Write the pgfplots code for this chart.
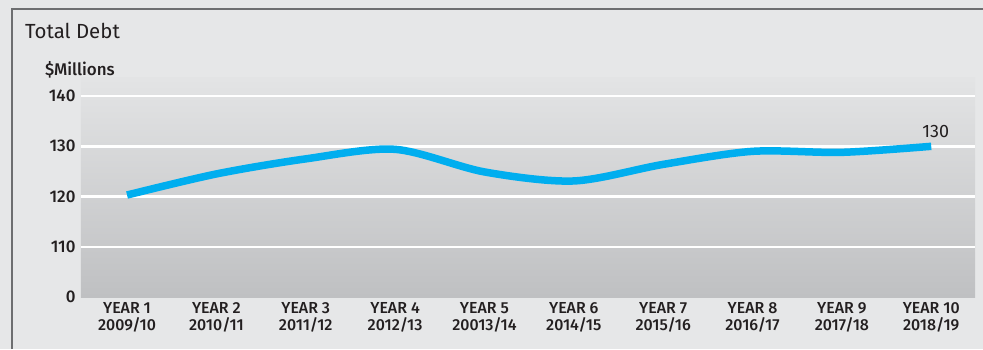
\documentclass[border=0pt]{standalone}
\usepackage{fontspec}
\setmainfont{Fira Sans}
\newfontfamily\medfont{Fira Sans Medium}
\usepackage{pgfplots}
\pgfplotsset{compat=1.18}
\definecolor{bg}{HTML}{E6E7E8}
\definecolor{frame}{HTML}{6D6E70}
\definecolor{topc}{HTML}{E3E4E5}
\definecolor{botc}{HTML}{BFC0C2}
\definecolor{lineblue}{HTML}{00AEEF}
\definecolor{txt}{HTML}{231F20}
\begin{document}
\begin{tikzpicture}[x=1bp,y=1bp]
\fill[bg] (-81,-52) rectangle (902,297);
\draw[frame, line width=2.5bp] (-69,-52) -- (-69,288) -- (902,288);
\node[anchor=base west, inner sep=0, text=txt, font=\fontsize{20.5}{22}\selectfont] at (-56,259) {Total Debt};
\node[anchor=base west, inner sep=0, text=txt, font=\medfont\fontsize{17}{19}\selectfont] at (-36,222) {\$Millions};
\begin{axis}[
  at={(0,0)}, anchor=south west,
  scale only axis, width=894bp, height=219bp,
  xmin=0.485, xmax=10.49, ymin=100, ymax=143.6,
  axis line style={draw=none},
  major tick length=0pt,
  /pgf/number format/assume math mode=true,
  axis background/.style={shade, top color=topc, bottom color=botc},
  ytick={110,120,130,140},
  extra y ticks={100}, extra y tick labels={0},
  extra y tick style={grid=none},
  ymajorgrids,
  grid style={white, line width=2.5bp},
  xtick={1,2,3,4,5,6,7,8,9,10},
  xticklabels={{YEAR 1\\2009/10},{YEAR 2\\2010/11},{YEAR 3\\2011/12},{YEAR 4\\2012/13},{YEAR 5\\20013/14},{YEAR 6\\2014/15},{YEAR 7\\2015/16},{YEAR 8\\2016/17},{YEAR 9\\2017/18},{YEAR 10\\2018/19}},
  xticklabel style={align=center, text=txt, font=\medfont\fontsize{16}{17}\selectfont, yshift=-2bp},
  yticklabel style={text=txt, font=\medfont\fontsize{17}{19}\selectfont, xshift=-2bp},
  clip=false,
]
\addplot[lineblue, line width=7.5bp, smooth, tension=0.5] coordinates {
(1,120.3) (2,124.5) (3,127.5) (4,129.4) (5,124.9) (6,123.1) (7,126.4) (8,129.0) (9,128.8) (10,130.0)};
\node[anchor=south, text=txt, font=\fontsize{18}{20}\selectfont, yshift=5bp] at (axis cs:10.05,130) {130};
\end{axis}
\pgfresetboundingbox
\useasboundingbox (-81,-52) rectangle (902,297);
\end{tikzpicture}
\end{document}
